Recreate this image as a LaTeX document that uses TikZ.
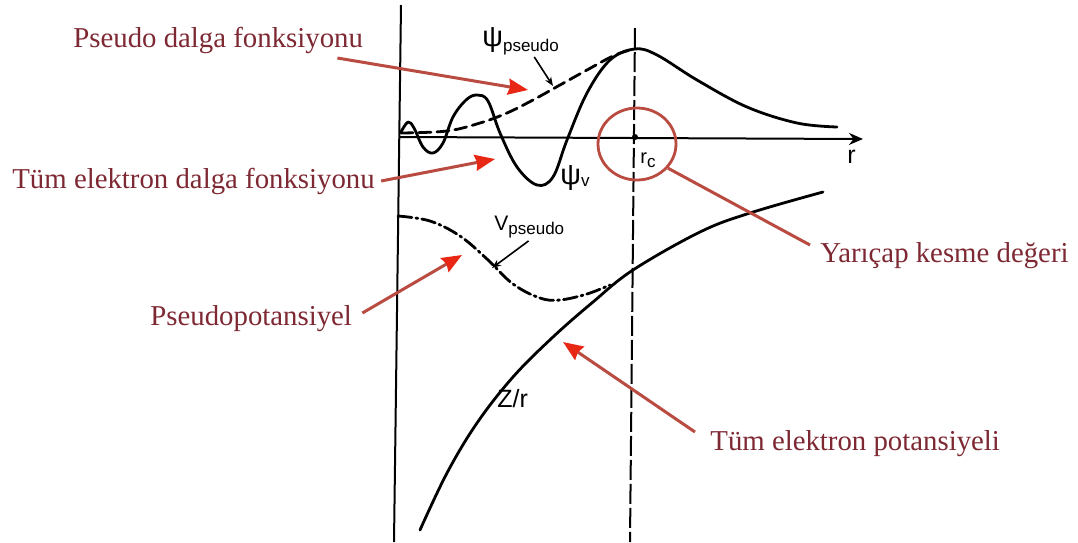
\documentclass[tikz,border=0pt]{standalone}
\usepackage{fontspec}
\setmainfont{Liberation Serif}
\newfontfamily\plotfont{Liberation Sans}
\usepackage{tikz}
\usetikzlibrary{arrows.meta, positioning, calc, shapes.geometric}
\definecolor{notered}{RGB}{125, 40, 50}
\definecolor{linered}{RGB}{185, 75, 65}
\definecolor{tipred}{RGB}{232, 40, 20}
\newcommand{\lowsub}[2]{\raisebox{-#1}{\fontsize{8.5}{9}\selectfont #2}}

\begin{document}
\begin{tikzpicture}[
    x=0.5pt, y=-0.5pt,
    note/.style={anchor=base west, inner sep=0pt, text=notered, font=\fontsize{14.4}{16}\selectfont},
    plotlabel/.style={anchor=base west, inner sep=0pt, font=\plotfont\fontsize{14.5}{16}\selectfont},
    curve/.style={line width=1.4pt, line join=round, line cap=round},
    axis/.style={line width=1pt},
    pointer/.style={line width=1.5pt, linered, -{Stealth[length=10pt, width=8pt, inset=1pt, color=tipred]}},
    callout/.style={line width=0.8pt, -{Stealth[length=4.5pt, width=3.5pt]}},
    cutring/.style={ellipse, draw=linered, line width=1.4pt, minimum width=39pt, minimum height=36pt, inner sep=0pt}
]
    \useasboundingbox (0,0) rectangle (1078,542);

    \draw[axis] (401,5) -- (394,542);
    \draw[axis, -{Stealth[length=7pt, width=6pt]}] (400,137) -- (863,139);
    \draw[axis, dash pattern=on 10pt off 2pt] (635,28) -- (630,542);
    \fill (635,137) circle [radius=3];

    \draw[curve] plot[smooth, tension=0.6] coordinates {(401,132) (408,122) (414,128) (423,147) (433,153) (443,143) (453,117) (466,100) (477,95) (488,101) (500,133) (517,167) (537,185) (553,177) (567,140) (587,93) (610,60) (635,49) (657,55) (697,80) (747,107) (797,123) (837,127)};
    \draw[curve, dash pattern=on 6pt off 3pt] plot[smooth, tension=0.6] coordinates {(401,133) (447,131) (480,123) (507,113) (533,100) (560,85) (587,70) (613,56) (630,50)};
    \draw[curve, dash pattern=on 7pt off 2pt on 1pt off 2pt] plot[smooth, tension=0.6] coordinates {(398,216) (430,221) (460,236) (487,259) (513,284) (540,298) (560,300) (587,294) (610,285)};
    \draw[curve] plot[smooth, tension=0.6] coordinates {(420,530) (447,473) (477,423) (513,377) (553,337) (593,302) (633,270) (700,232) (750,213) (823,192)};

    \node[plotlabel] (psipseudo) at (482,46) {ψ\lowsub{2.5pt}{pseudo}};
    \node[plotlabel] (psiv) at (560,184) {ψ\lowsub{1pt}{v}};
    \node[plotlabel, font=\plotfont\fontsize{10.5}{12}\selectfont] (vpseudo) at (494,230) {V\lowsub{2pt}{pseudo}};
    \node[plotlabel, font=\plotfont\fontsize{12.5}{14}\selectfont] (zr) at (497,407) {Z/r};
    \node[plotlabel, font=\plotfont\fontsize{10}{12}\selectfont] (rc) at (640,163) {r\lowsub{2pt}{c}};
    \node[plotlabel, font=\plotfont\fontsize{12.5}{14}\selectfont] (raxis) at (847,163) {r};
    \node[cutring] (ring) at (637,144) {};

    \coordinate (psitip) at (553,86);
    \coordinate (vtip) at (492,268);
    \draw[callout] ([xshift=-12.5pt, yshift=-1pt]psipseudo.south east) -- (psitip);
    \draw[callout] ([xshift=-18pt, yshift=-1.5pt]vpseudo.south east) -- (vtip);

    \node[note] (pseudowave) at (73,47) {Pseudo dalga fonksiyonu};
    \node[note] (allwave) at (12,188) {Tüm elektron dalga fonksiyonu};
    \node[note] (pseudopot) at (150,325) {Pseudopotansiyel};
    \node[note] (cutoff) at (820,262) {Yarıçap kesme değeri};
    \node[note] (allpot) at (710,450) {Tüm elektron potansiyeli};

    \coordinate (pwtip) at (528,90);
    \coordinate (awtip) at (495,159);
    \coordinate (pptip) at (462,255);
    \coordinate (aptip) at (563,342);
    \draw[pointer] ([xshift=-13pt, yshift=-5.5pt]pseudowave.base east) -- (pwtip);
    \draw[pointer] ([xshift=3pt, yshift=3.5pt]allwave.base east) -- (awtip);
    \draw[pointer] ([xshift=5pt, yshift=6pt]pseudopot.base east) -- (pptip);
    \draw[pointer] ([xshift=-7.5pt, yshift=9pt]allpot.base west) -- (aptip);
    \draw[linered, line width=1.5pt] (ring.-38) -- ([xshift=-5pt, yshift=8.5pt]cutoff.base west);

\end{tikzpicture}
\end{document}
